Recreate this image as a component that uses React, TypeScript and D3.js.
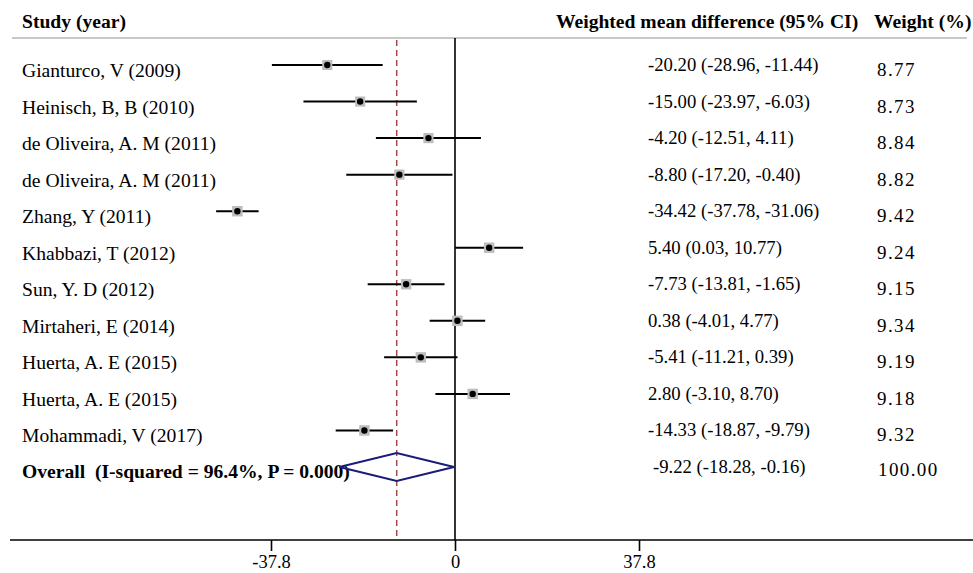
import React, { useEffect, useRef } from 'react';
import * as d3 from 'd3';

// study rows
const studies = [
  'Gianturco, V (2009)',
  'Heinisch, B, B (2010)',
  'de Oliveira, A. M (2011)',
  'de Oliveira, A. M (2011)',
  'Zhang, Y (2011)',
  'Khabbazi, T (2012)',
  'Sun, Y. D (2012)',
  'Mirtaheri, E (2014)',
  'Huerta, A. E (2015)',
  'Huerta, A. E (2015)',
  'Mohammadi, V (2017)',
];
const estimates = [-20.2, -15.0, -4.2, -8.8, -34.42, 5.4, -7.73, 0.38, -5.41, 2.8, -14.33];
const lowers = [-28.96, -23.97, -12.51, -17.2, -37.78, 0.03, -13.81, -4.01, -11.21, -3.1, -18.87];
const uppers = [-11.44, -6.03, 4.11, -0.4, -31.06, 10.77, -1.65, 4.77, 0.39, 8.7, -9.79];
const weights = [8.77, 8.73, 8.84, 8.82, 9.42, 9.24, 9.15, 9.34, 9.19, 9.18, 9.32];

// pooled estimate
const overallLabel = 'Overall  (I-squared = 96.4%, P = 0.000)';
const overallEst = -9.22;
const overallLo = -18.28;
const overallHi = -0.16;
const overallWeight = 100.0;

// axis ticks (position on plot scale, printed label)
const tickValues = [-29.1, 0, 29.1];
const tickLabels = ['-37.8', '0', '37.8'];

const FONT = '"Liberation Serif", "Times New Roman", serif';

const App = () => {
  const svgRef = useRef<SVGSVGElement>(null);

  useEffect(() => {
    const svg = d3.select(svgRef.current);
    svg.selectAll('*').remove();

    const width = 973;
    const height = 573;
    const top = 38;
    const axisY = 540;

    const x = d3.scaleLinear().domain([-29.1, 29.1]).range([271, 639]);
    const y = d3.scaleLinear().domain([0, studies.length]).range([65, 467]);
    const boxSize = d3.scaleSqrt().domain([0, 9.42]).range([0, 10.5]);

    svg.attr('width', width).attr('height', height).style('font-family', FONT);

    // headers
    const head = svg.append('g').attr('font-weight', 'bold').attr('font-size', 19.6);
    head.append('text').attr('x', 22).attr('y', 28).text('Study (year)');
    head.append('text').attr('x', 556).attr('y', 28).text('Weighted mean difference (95% CI)');
    head.append('text').attr('x', 874).attr('y', 28).text('Weight (%)');

    svg.append('line')
      .attr('x1', 12).attr('x2', 967).attr('y1', top).attr('y2', top)
      .attr('stroke', '#c8c8c8').attr('stroke-width', 2);

    // null line and pooled estimate line
    svg.append('line')
      .attr('x1', x(0)).attr('x2', x(0)).attr('y1', top).attr('y2', axisY)
      .attr('stroke', '#000').attr('stroke-width', 1.6);
    svg.append('line')
      .attr('x1', x(overallEst)).attr('x2', x(overallEst)).attr('y1', top + 2).attr('y2', axisY)
      .attr('stroke', '#a3464f').attr('stroke-width', 1.5).attr('stroke-dasharray', '6,4');

    const rows = studies.map((s, i) => ({
      study: s, est: estimates[i], lo: lowers[i], hi: uppers[i], w: weights[i], i,
    }));

    const g = svg.append('g');
    const row = g.selectAll('g.row').data(rows).join('g').attr('class', 'row');

    row.append('line')
      .attr('x1', d => x(d.lo)).attr('x2', d => x(d.hi))
      .attr('y1', d => y(d.i)).attr('y2', d => y(d.i))
      .attr('stroke', '#000').attr('stroke-width', 2);
    row.append('rect')
      .attr('x', d => x(d.est) - boxSize(d.w) / 2)
      .attr('y', d => y(d.i) - boxSize(d.w) / 2)
      .attr('width', d => boxSize(d.w)).attr('height', d => boxSize(d.w))
      .attr('fill', '#bdbdbd');
    row.append('circle')
      .attr('cx', d => x(d.est)).attr('cy', d => y(d.i)).attr('r', 3.2)
      .attr('fill', '#000');

    row.append('text')
      .attr('x', 22).attr('y', d => y(d.i) + 12)
      .attr('font-size', 19.6).text(d => d.study);
    row.append('text')
      .attr('x', 648).attr('y', d => y(d.i) + 6)
      .attr('font-size', 18.7)
      .text(d => `${d.est.toFixed(2)} (${d.lo.toFixed(2)}, ${d.hi.toFixed(2)})`);
    row.append('text')
      .attr('x', 877).attr('y', d => y(d.i) + 11)
      .attr('font-size', 19).attr('letter-spacing', 1.4).text(d => d.w.toFixed(2));

    // overall row
    const oy = y(studies.length);
    svg.append('text')
      .attr('x', 22).attr('y', oy + 11)
      .attr('font-size', 19.6).attr('font-weight', 'bold')
      .style('white-space', 'pre').text(overallLabel);
    svg.append('path')
      .attr('d', `M${x(overallLo)},${oy}L${x(overallEst)},${oy - 14}L${x(overallHi)},${oy}L${x(overallEst)},${oy + 14}Z`)
      .attr('fill', 'none').attr('stroke', '#1b1b7a').attr('stroke-width', 2);
    svg.append('text')
      .attr('x', 653).attr('y', oy + 6)
      .attr('font-size', 18.7)
      .text(`${overallEst.toFixed(2)} (${overallLo.toFixed(2)}, ${overallHi.toFixed(2)})`);
    svg.append('text')
      .attr('x', 878).attr('y', oy + 9)
      .attr('font-size', 19).attr('letter-spacing', 1.4).text(overallWeight.toFixed(2));

    // x axis
    svg.append('line')
      .attr('x1', 10).attr('x2', width).attr('y1', axisY).attr('y2', axisY)
      .attr('stroke', '#000').attr('stroke-width', 1.6);
    const axis = svg.append('g')
      .attr('transform', `translate(0,${axisY})`)
      .call(
        d3.axisBottom(x)
          .tickValues(tickValues)
          .tickSize(11)
          .tickPadding(4)
          .tickFormat((_, i) => tickLabels[i])
      );
    axis.select('.domain').remove();
    axis.selectAll('.tick line').attr('stroke', '#000').attr('stroke-width', 1.6);
    axis.selectAll('.tick text')
      .attr('font-family', FONT).attr('font-size', 18.5).attr('fill', '#000');
  }, []);

  return (
    <div>
      <svg ref={svgRef} style={{ position: 'absolute', left: 0, top: 0 }} />
    </div>
  );
};

export default App;
